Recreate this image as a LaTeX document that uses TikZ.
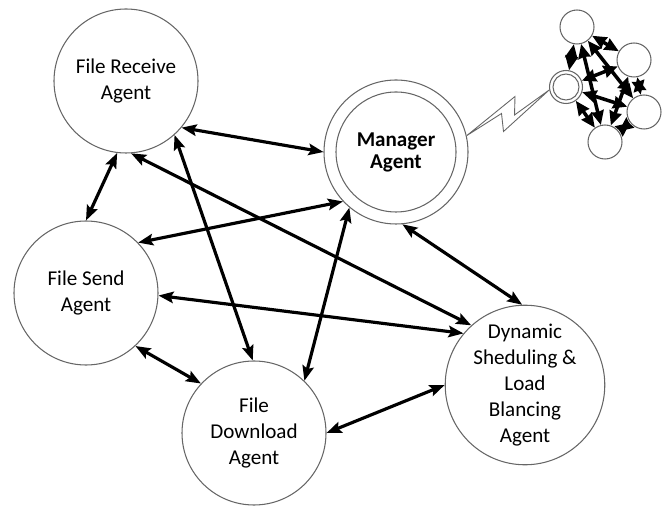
\documentclass[tikz,border=0pt]{standalone}
\usepackage{fontspec}
\setmainfont{Carlito}
\usetikzlibrary{arrows.meta}
\tikzset{>={Stealth[length=8.5pt,width=6.5pt,inset=1.5pt]}}
\tikzset{
  agent/.style={circle, draw=black!60, line width=.6pt, minimum size=2.88cm,
    inner sep=0pt, align=center, font=\fontsize{12}{14.8}\selectfont},
  peer/.style={circle, draw=black!60, line width=.6pt, minimum size=.68cm, inner sep=0pt},
  link/.style={<->, line width=1.8pt},
  plink/.style={<->, line width=2pt, >={Stealth[length=8pt,width=7pt,inset=.5pt]}}
}

\begin{document}
\begin{tikzpicture}
  \useasboundingbox (0,0) rectangle (13.28,10.16);
  % agents
  \node[agent] (recv) at (2.52,8.54) {File Receive\\Agent};
  \node[agent] (send) at (1.72,4.30) {File Send\\Agent};
  \node[agent] (down) at (5.08,1.50) {File\\Download\\Agent};
  \node[agent] (dyn) at (10.50,2.46) {Dynamic\\Sheduling \&\\Load\\Blancing\\Agent};
  \node[agent, font=\fontsize{12}{12.5}\selectfont\bfseries] (mgr) at (7.92,7.12) {Manager\\Agent};
  \draw[black!60, line width=.6pt] (mgr.center) circle (1.2);
  % peers
  \node[peer, minimum size=.66cm] (hub) at (11.32,8.42) {};
  \draw[black!60, line width=.6pt] (hub.center) circle (.26);
  \node[peer] (pa) at (11.54,9.62) {};
  \node[peer] (pb) at (12.68,8.96) {};
  \node[peer] (pc) at (12.88,7.92) {};
  \node[peer] (pd) at (12.10,7.32) {};
  % links
  \draw[link] (recv.-40) -- (mgr.180);
  \draw[link] (recv.-97) -- (send.90);
  \draw[link] (recv.-86) -- (dyn.132);
  \draw[link] (recv.-48) -- (down.91);
  \draw[link] (send.44) -- (mgr.223);
  \draw[link] (send.-2) -- (dyn.140);
  \draw[link] (send.-47) -- (down.137);
  \draw[link] (mgr.230) -- (down.46);
  \draw[link] (mgr.-85) -- (dyn.92);
  \draw[link] (down.0) -- (dyn.180);
  % peer links
  \draw[plink] (pa) -- (pb);
  \draw[plink] (pa) -- (hub);
  \draw[plink] (pa) -- (pc);
  \draw[plink] (pa) -- (pd);
  \draw[plink] (pb) -- (pc);
  \draw[plink] (pb) -- (hub);
  \draw[plink] (pb) -- (pd);
  \draw[plink] (pc) -- (hub);
  \draw[plink] (pc) -- (pd);
  \draw[plink] (pd) -- (hub);
  % wireless bolt
  \coordinate (z1) at (10.30,8.23);
  \coordinate (z2) at (10.29,7.86);
  \coordinate (z3) at (10.07,7.53);
  \coordinate (z4) at (10.03,7.89);
  \draw[black!60, line width=.5pt, fill=white, line join=miter]
    (mgr.13) -- (z1) -- (z2) -- (hub.190) -- (z3) -- (z4) -- cycle;
\end{tikzpicture}
\end{document}
